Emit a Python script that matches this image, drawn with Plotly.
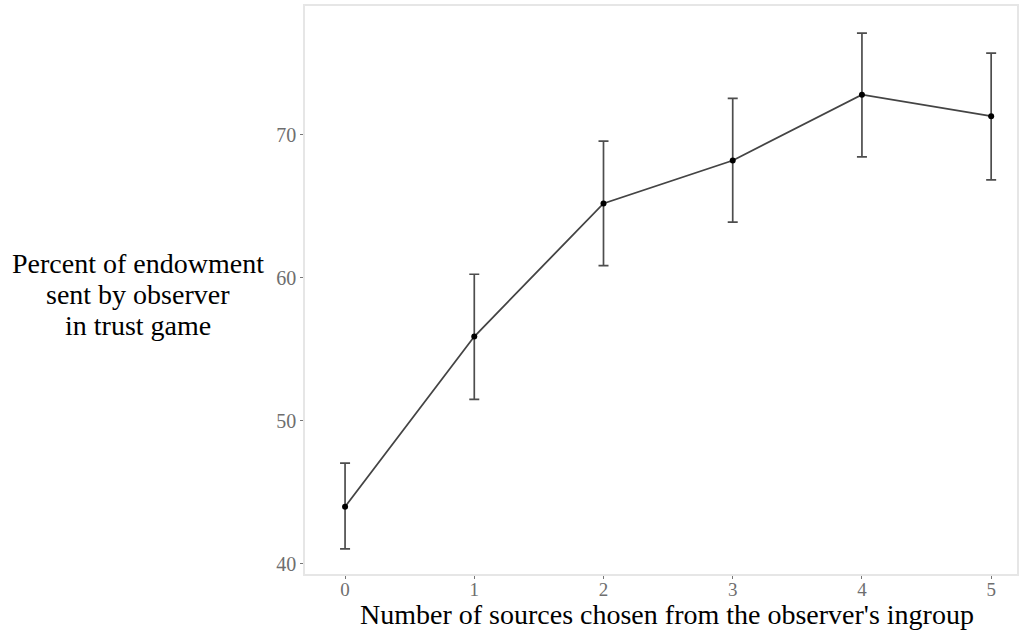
import plotly.graph_objects as go

# Trust-game results by number of ingroup sources chosen
sources = [0, 1, 2, 3, 4, 5]
percent_sent = [44.0, 55.9, 65.2, 68.2, 72.8, 71.3]
ci_low = [41.05, 51.5, 60.85, 63.9, 68.45, 66.85]
ci_high = [47.05, 60.25, 69.55, 72.55, 77.1, 75.7]
y_title_lines = ["Percent of endowment", "sent by observer", "in trust game"]
x_title = "Number of sources chosen from the observer's ingroup"

err_plus = [h - m for h, m in zip(ci_high, percent_sent)]
err_minus = [m - l for m, l in zip(percent_sent, ci_low)]

fig = go.Figure()
fig.add_trace(go.Scatter(
    x=sources, y=percent_sent,
    mode="lines+markers",
    line=dict(color="#444444", width=1.8),
    marker=dict(color="black", size=6),
    error_y=dict(type="data", symmetric=False, array=err_plus, arrayminus=err_minus,
                 color="#4d4d4d", thickness=1.7, width=5),
    showlegend=False,
))

serif = "Liberation Serif, Times New Roman, serif"
fig.update_layout(
    width=1023, height=630,
    margin=dict(l=305, r=4, t=6, b=56),
    paper_bgcolor="white", plot_bgcolor="white",
    font=dict(family=serif),
    xaxis=dict(range=[-0.31, 5.2], tickvals=sources, ticktext=[str(s) for s in sources],
               showgrid=False, zeroline=False, showline=True, mirror=True,
               linecolor="#e6e6e6", linewidth=1.5,
               ticks="outside", ticklen=3, tickcolor="#777777", ticklabelstandoff=-6,
               tickfont=dict(size=19, color="#6e6e6e", family=serif)),
    yaxis=dict(range=[39.3, 79.0], tickvals=[40, 50, 60, 70],
               showgrid=False, zeroline=False, showline=True, mirror=True,
               linecolor="#e6e6e6", linewidth=1.5,
               ticks="outside", ticklen=3, tickcolor="#777777",
               tickfont=dict(size=20, color="#6e6e6e", family=serif)),
)

# x-axis title placed just below the tick labels
fig.add_annotation(
    text=x_title, xref="paper", yref="paper",
    x=(668 - 305) / 714, y=(574 - 614) / 568,
    xanchor="center", yanchor="middle", showarrow=False, borderpad=0,
    font=dict(size=28, color="black", family=serif),
)

# Horizontal y-axis title, one annotation per line for tight spacing
for i, line in enumerate(y_title_lines):
    py = 263 + 31 * i
    fig.add_annotation(
        text=line, xref="paper", yref="paper",
        x=(138 - 305) / 714, y=(574 - py) / 568,
        xanchor="center", yanchor="middle", showarrow=False,
        font=dict(size=28, color="black", family=serif),
    )

fig.write_html("out.html")
